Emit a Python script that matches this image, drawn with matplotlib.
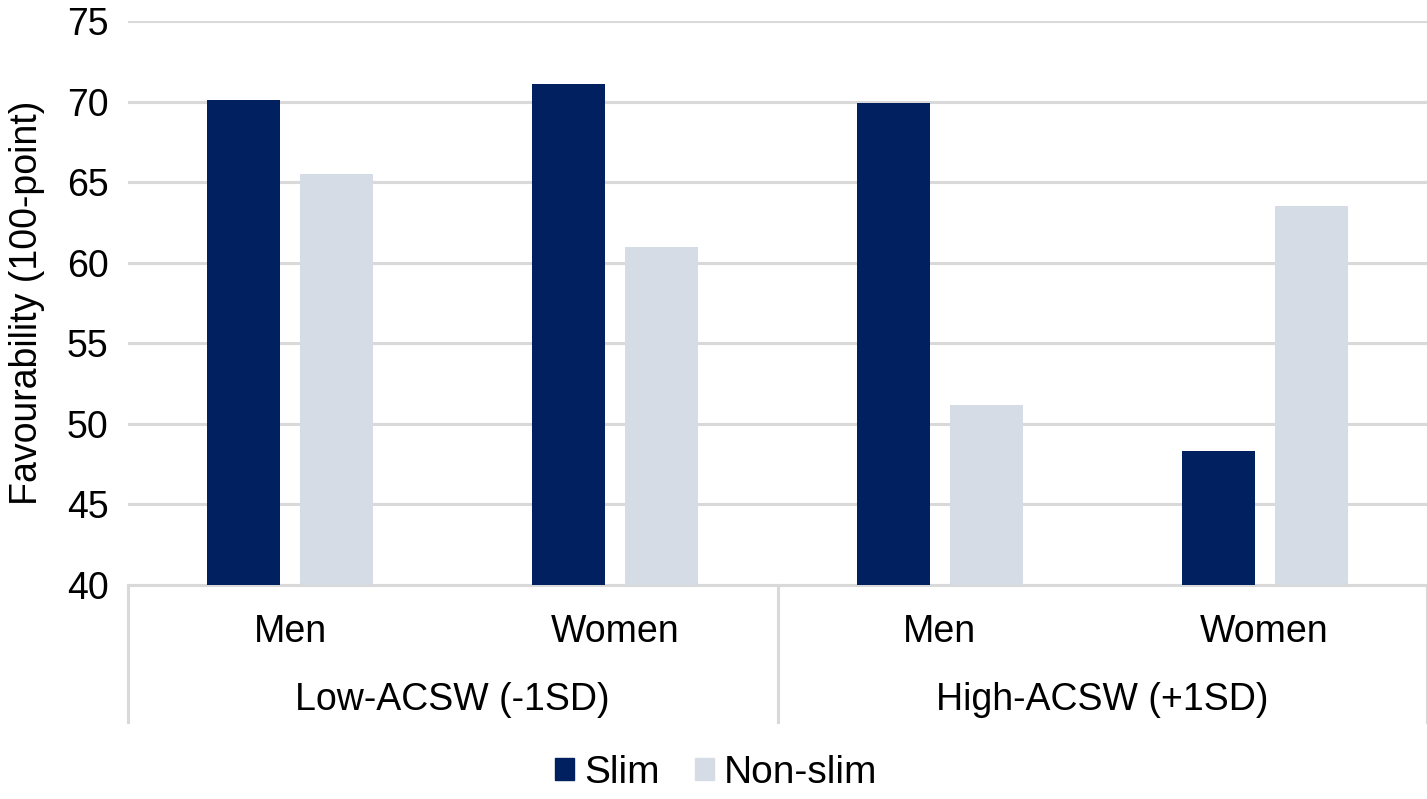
import numpy as np
import matplotlib
matplotlib.use("Agg")
import matplotlib.pyplot as plt
from matplotlib.patches import Patch

plt.rcParams['font.family'] = ['Liberation Sans', 'DejaVu Sans']

# ── data ──────────────────────────────────────────────
categories = ["Men", "Women", "Men", "Women"]
groups = ["Low-ACSW (-1SD)", "High-ACSW (+1SD)"]
slim = [70.1, 71.1, 69.9, 48.3]
non_slim = [65.5, 61.0, 51.2, 63.5]
yticks = [40, 45, 50, 55, 60, 65, 70, 75]

C_SLIM = "#002060"
C_NON = "#D6DCE5"
C_GRID = "#D9D9D9"
FS = 27

W, H = 1427, 799
fig = plt.figure(figsize=(W / 100, H / 100), dpi=100, facecolor="white")
ax = fig.add_axes([128 / W, (H - 585) / H, 1299 / W, (585 - 21) / H])

x = np.arange(len(categories))
bw = 0.225
off = 0.143
ax.bar(x - off, [v - 40 for v in slim], bw, bottom=40, color=C_SLIM, zorder=3)
ax.bar(x + off, [v - 40 for v in non_slim], bw, bottom=40, color=C_NON, zorder=3)

ax.set_xlim(-0.5, len(categories) - 0.5)
ax.set_ylim(40, 75)
ax.set_yticks(yticks)
ax.tick_params(axis="y", length=0, pad=14, labelsize=FS)
ax.set_xticks([])
for s in ax.spines.values():
    s.set_visible(False)
ax.grid(axis="y", color=C_GRID, lw=2.2, zorder=0)
ax.set_axisbelow(True)
ax.set_ylabel("Favourability (100-point)", fontsize=FS, labelpad=16)

# ── multi-level category axis ─────────────────────────
tr = ax.get_xaxis_transform()
ax.axhline(40, color=C_GRID, lw=2.2, zorder=1, clip_on=False)
for i, c in enumerate(categories):
    ax.text(i, -0.083, c, transform=tr, ha="center", va="center", fontsize=FS)
for g, name in enumerate(groups):
    ax.text(2 * g + 0.5, -0.204, name, transform=tr, ha="center", va="center",
            fontsize=FS)
for xb in [-0.5, 1.5, 3.5]:
    ax.plot([xb, xb], [0, -0.243], transform=tr, color=C_GRID, lw=2.2,
            clip_on=False)

# ── legend ────────────────────────────────────────────
handles = [Patch(color=C_SLIM, label="Slim"), Patch(color=C_NON, label="Non-slim")]
fig.legend(handles=handles, loc="center", bbox_to_anchor=(716 / W, 1 - 773 / H),
           ncol=2, frameon=False, fontsize=28, handlelength=0.5, handleheight=0.5,
           handletextpad=0.25, columnspacing=0.9)

fig.savefig("out.png", dpi=100, facecolor="white")
